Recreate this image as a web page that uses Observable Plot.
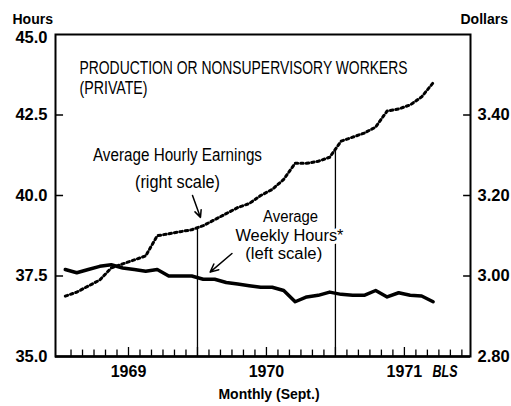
<!DOCTYPE html>
<html><head><meta charset="utf-8">
<script src="https://cdn.jsdelivr.net/npm/d3@7"></script>
<script src="https://cdn.jsdelivr.net/npm/@observablehq/plot@0.6"></script>
<style>
body{margin:0;background:#fff;}
#chart svg{font-family:"Liberation Sans",Arial,sans-serif;}
</style></head><body><div id="chart"></div>
<script>
// Month index 0 = September 1968 ... 32 = May 1971 (data plotted mid-month)
const months = d3.range(33);
// Average weekly hours (left scale)
const hours = [37.70,37.60,37.70,37.80,37.85,37.75,37.70,37.65,37.70,37.50,37.50,37.50,
               37.40,37.40,37.30,37.25,37.20,37.15,37.15,37.05,36.70,36.85,36.90,37.00,
               36.93,36.90,36.90,37.05,36.85,36.98,36.90,36.88,36.70];
// Average hourly earnings, dollars (right scale)
const earnings = [2.950,2.960,2.975,2.990,3.020,3.030,3.040,3.050,3.100,3.105,3.110,3.115,
                  3.125,3.140,3.155,3.170,3.180,3.200,3.215,3.240,3.280,3.280,3.285,3.295,
                  3.335,3.345,3.355,3.370,3.410,3.415,3.425,3.445,3.480];
const leftTicks = [35, 37.5, 40, 42.5, 45];
const leftTickLabels = ["35.0","37.5","40.0","42.5","45.0"];
const rightTicks = [2.80, 3.00, 3.20, 3.40];
const rightTickLabels = ["2.80","3.00","3.20","3.40"];
const yearLabels = ["1969","1970","1971"];
const yearPositions = [6, 18, 30];      // centre of each Sept-to-Sept year
const septMarkers = [12, 24];           // Sept 1969, Sept 1970
const tickMonths = d3.range(1, 36);

// dollars -> hours-scale (2.80 <-> 35.0, 3.60 <-> 45.0)
const toH = d => 35 + (d - 2.80) * 12.5;

const titleLines = [
  {x: 1.74, y: 43.94, text: "PRODUCTION OR NONSUPERVISORY WORKERS"},
  {x: 1.74, y: 43.32, text: "(PRIVATE)"}
];
const earningsNote = [
  {x: 10.26, y: 41.24, text: "Average Hourly Earnings"},
  {x: 10.26, y: 40.40, text: "(right scale)"}
];
const hoursNote = [
  {x: 20.1, y: 39.34, text: "Average"},
  {x: 20.0, y: 38.74, text: "Weekly Hours*"},
  {x: 19.5, y: 38.20, text: "(left scale)"}
];
const arrows = [
  {x1: 11.57, y1: 40.0, x2: 12.26, y2: 39.32},
  {x1: 15.0, y1: 38.2, x2: 13.1, y2: 37.62}
];
// condensed-type look: rendered widths (px) for the narrow-face texts
const condensedWidth = {
  "PRODUCTION OR NONSUPERVISORY WORKERS": 328, "(PRIVATE)": 68,
  "Average Hourly Earnings": 169, "(right scale)": 85,
  "Average": 55, "Weekly Hours*": 108, "(left scale)": 77, "BLS": 25
};
const topIdx = leftTicks.length - 1;

const chart = Plot.plot({
  width: 511, height: 406,
  marginLeft: 55, marginRight: 41, marginTop: 34, marginBottom: 50,
  x: {domain: [-0.35, 35.75], axis: null},
  y: {domain: [35, 45], axis: null},
  marks: [
    Plot.ruleX(tickMonths, {x: d => d, y1: 35, y2: d => (d % 6 === 0 ? 35.28 : 35.2), strokeWidth: 1.3}),
    Plot.ruleY(leftTicks.slice(1, 4), {y: d => d, x1: -0.35, x2: 0.35, strokeWidth: 1.5}),
    Plot.ruleY(rightTicks.slice(1), {y: d => toH(d), x1: 35.15, x2: 35.75, strokeWidth: 1.5}),
    Plot.ruleX(septMarkers, {x: d => d, y1: 35, y2: d => toH((earnings[d - 1] + earnings[d]) / 2), strokeWidth: 1.3}),
    Plot.line(months, {x: i => i + 0.5, y: i => toH(earnings[i]), strokeWidth: 3, strokeDasharray: "2.5,3"}),
    Plot.line(months, {x: i => i + 0.5, y: i => hours[i], strokeWidth: 3.5, strokeLinejoin: "round"}),
    Plot.frame({strokeWidth: 2}),
    Plot.ruleY([35], {strokeWidth: 2.5}),
    Plot.text(leftTicks.slice(0, topIdx), {y: d => d, text: (d, i) => leftTickLabels[i], frameAnchor: "left", textAnchor: "end", dx: -8, fontSize: 16.5, fontWeight: "bold"}),
    Plot.text(leftTicks.slice(topIdx), {y: d => d, text: () => leftTickLabels[topIdx], frameAnchor: "left", textAnchor: "end", dx: -8, dy: 3, fontSize: 16.5, fontWeight: "bold"}),
    Plot.text(rightTicks, {y: d => toH(d), text: (d, i) => rightTickLabels[i], frameAnchor: "right", textAnchor: "start", dx: 7, fontSize: 16.5, fontWeight: "bold"}),
    Plot.text(yearPositions, {x: d => d, text: (d, i) => yearLabels[i], frameAnchor: "bottom", dy: 20, fontSize: 16, fontWeight: "bold"}),
    Plot.text(["BLS"], {frameAnchor: "bottom-right", dx: -13, dy: 20, text: d => d, fontSize: 16, fontWeight: "bold", fontStyle: "italic"}),
    Plot.text(["Monthly (Sept.)"], {frameAnchor: "bottom", dx: 6, dy: 42, text: d => d, fontSize: 14, fontWeight: "bold"}),
    Plot.text(["Hours"], {frameAnchor: "top-left", textAnchor: "start", dx: -43, dy: -20, text: d => d, fontSize: 14, fontWeight: "bold"}),
    Plot.text(["Dollars"], {frameAnchor: "top-right", textAnchor: "start", dx: -10, dy: -20, text: d => d, fontSize: 14, fontWeight: "bold"}),
    Plot.text(titleLines, {x: "x", y: "y", text: "text", textAnchor: "start", fontSize: 17.5}),
    Plot.text(earningsNote, {x: "x", y: "y", text: "text", textAnchor: "middle", fontSize: 17.5}),
    Plot.text(hoursNote, {x: "x", y: "y", text: "text", fontSize: 16, stroke: "white", strokeWidth: 6, fill: "black"}),
    Plot.arrow(arrows, {x1: "x1", y1: "y1", x2: "x2", y2: "y2", strokeWidth: 1.5, headLength: 9, headAngle: 50})
  ]
});
d3.select(chart).selectAll("text").each(function () {
  const w = condensedWidth[this.textContent];
  if (w) {
    this.setAttribute("textLength", w);
    this.setAttribute("lengthAdjust", "spacingAndGlyphs");
  }
});
document.getElementById("chart").appendChild(chart);
</script>
</body></html>
